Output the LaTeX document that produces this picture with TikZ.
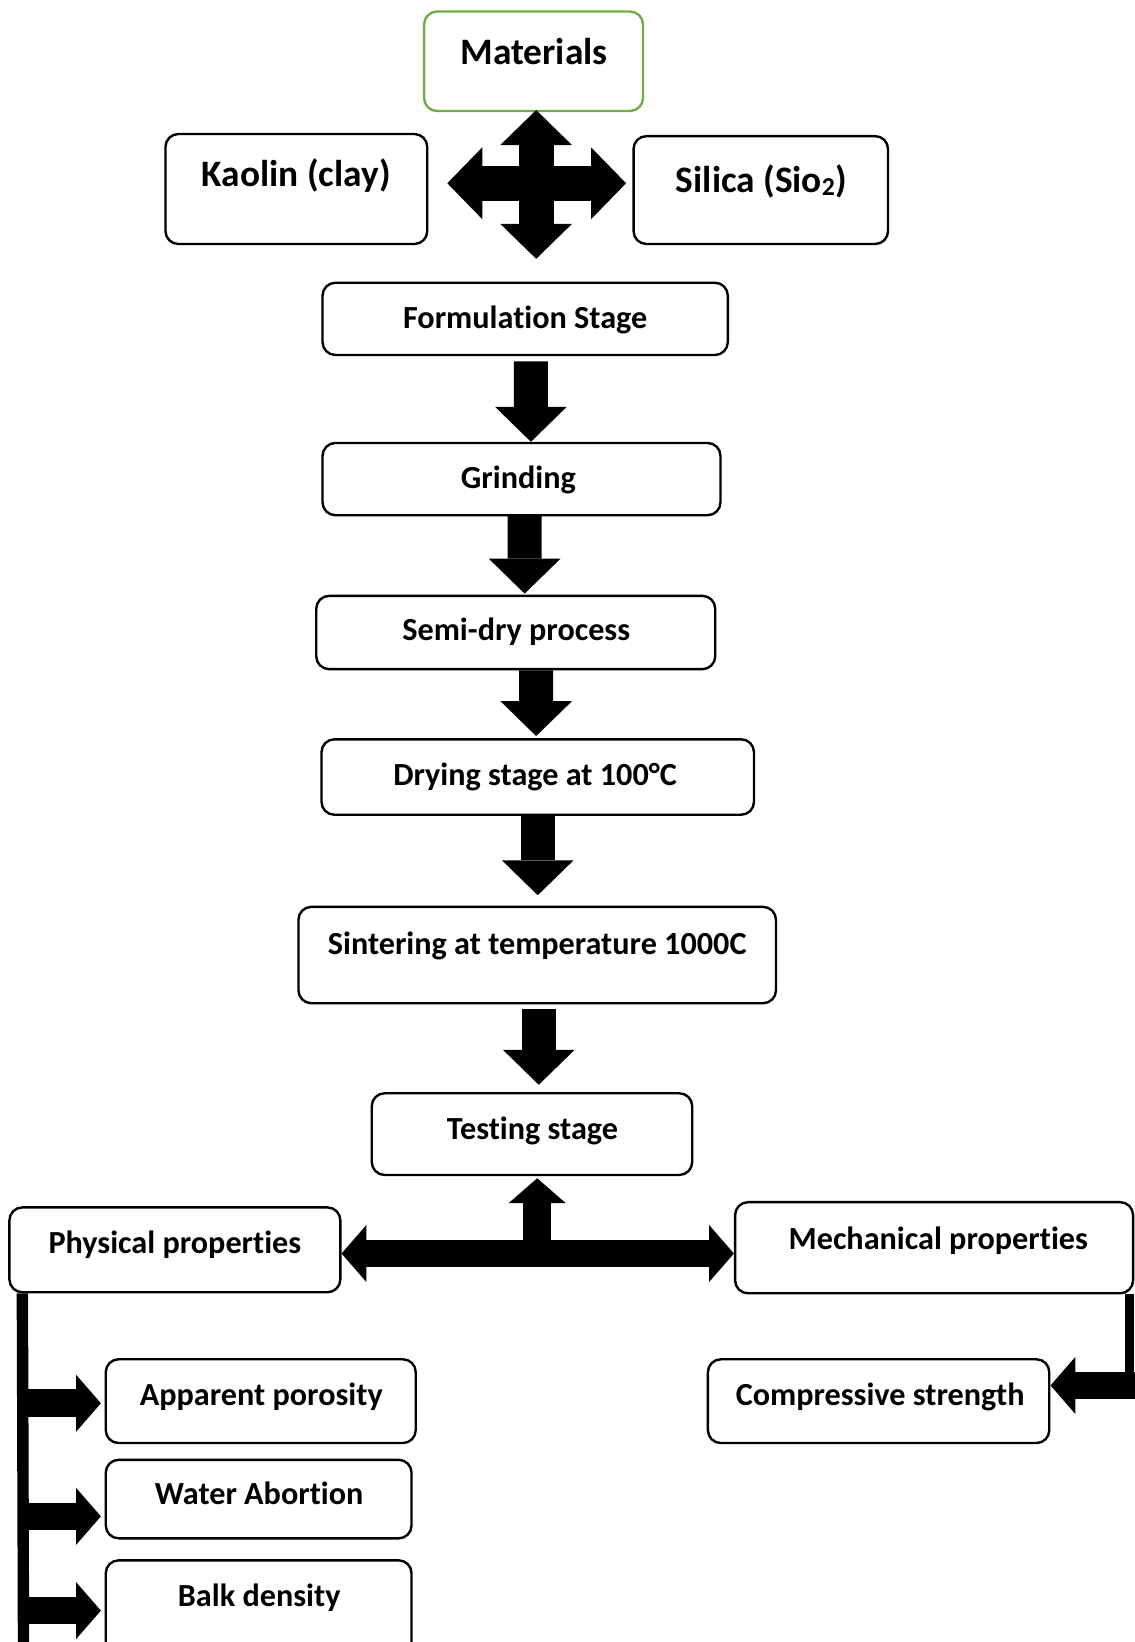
\documentclass[tikz,border=0pt]{standalone}
\usepackage{fontspec}
\setmainfont{Carlito}[Ligatures=NoCommon]
\usetikzlibrary{arrows.meta,calc,fit}

\definecolor{matgreen}{RGB}{112,173,71}

\tikzset{
  box/.style={draw, line width=1.3pt, rounded corners=7pt, inner sep=0pt},
  txt/.style={inner sep=0pt, yshift=-2.5pt, text height=0.63em, text depth=0pt, font=\bfseries\fontsize{17.5}{21}\selectfont},
  bigtxt/.style={txt, yshift=-1.5pt, font=\bfseries\fontsize{20.3}{24}\selectfont},
  Head/.tip={Triangle[length=19pt 0, width=39pt 0, line width=0pt 0]},
  Small/.tip={Triangle[length=13.5pt 0, width=31pt 0, line width=0pt 0]},
  flow/.style={line width=18.5pt, -Head},
  cross/.style={line width=19pt, Head-Head},
  link/.style={line width=15pt, -Small},
  linkboth/.style={line width=14.7pt, Small-Small},
  bar/.style={line width=#1},
}

\begin{document}
\begin{tikzpicture}[x=0.02cm, y=-0.02cm]
        \useasboundingbox (0,0) rectangle (1083,1568);

        % Raw materials
        \node[box, draw=matgreen, fit={(405,11) (614,106)}] (mat) {};
        \node[box, fit={(158,128) (408,233)}] (kao) {};
        \node[box, fit={(605,130) (848,233)}] (sil) {};
        \node[bigtxt] (mat-t) at (510,49) {Materials};
        \node[bigtxt] (kao-t) at (283,166) {Kaolin (clay)};
        \node[bigtxt] (sil-t) at (727,171) {Silica (Sio\raisebox{-0.2ex}{\fontsize{14}{14}\selectfont 2})};

        % Four way arrow
        \coordinate (hub) at (512,175);
        \draw[cross] ($(hub -| kao.east)+(18,0)$) -- ($(hub -| sil.west)+(-6,0)$);
        \draw[cross] ($(hub |- mat.south)+(0,-2)$) -- ($(hub |- mat.south)+(0,140)$);

        % Process chain
        \node[box, fit={(308,270) (695,339)}] (form) {};
        \node[box, fit={(308,423) (688,492)}] (grind) {};
        \node[box, fit={(302,569) (683,639)}] (semi) {};
        \node[box, fit={(307,706) (720,778)}] (dry) {};
        \node[box, fit={(285,866) (741,958)}] (sint) {};
        \node[box, fit={(355,1044) (661,1122)}] (test) {};

        \node[txt] (form-t) at (501.5,304) {Formulation Stage};
        \node[txt] (grind-t) at (495,457) {Grinding};
        \node[txt] (semi-t) at (493,602) {Semi-dry process};
        \node[txt] (dry-t) at (511,740) {Drying stage at 100°C};
        \node[txt] (sint-t) at (513,902) {Sintering at temperature 1000C};
        \node[txt] (test-t) at (508.5,1078) {Testing stage};

        \draw[flow] ($(form.south)+(5.5,5)$) -- ($(grind.north)+(9,0)$);
        \draw[flow] ($(grind.south)+(3,-2)$) -- ($(semi.north)+(8.5,-1)$);
        \draw[flow] ($(semi.south)+(19.5,0)$) -- ($(dry.north)+(-1.5,-2)$);
        \draw[flow] ($(dry.south)+(0,0)$) -- ($(sint.north)+(0.5,-10)$);
        \draw[flow] ($(sint.south)+(1.5,4)$) -- ($(test.north)+(6.5,-7)$);

        % Testing branches
        \node[box, fit={(9,1153) (325,1234)}] (phys) {};
        \node[box, fit={(702,1148) (1082,1235)}] (mech) {};
        \node[txt] (phys-t) at (167,1187) {Physical properties};
        \node[txt] (mech-t) at (896,1183) {Mechanical properties};

        \coordinate (split) at (513,1197);
        \draw[linkboth] (split -| phys.east) -- (split -| mech.west);
        \draw[link] (split) -- ($(split |- test.south)+(0,2)$);

        % Physical tests
        \node[box, fit={(101,1298) (397,1378)}] (app) {};
        \node[box, fit={(101,1394) (393,1469)}] (water) {};
        \node[box, fit={(101,1490) (393,1580)}] (balk) {};
        \node[txt] (app-t) at (249.5,1332) {Apparent porosity};
        \node[txt] (water-t) at (247.5,1427) {Water Abortion};
        \node[txt] (balk-t) at (247.5,1524) {Balk density};

        \coordinate (lbar) at (22.5,1580);
        \draw[bar=6.2pt] ($(phys.south west)+(13.5,0)$) -- (lbar);
        \coordinate (b1) at (17,1340);
        \coordinate (b2) at (17,1448);
        \coordinate (b3) at (17,1538);
        \draw[link, shorten >=2pt] (b1) -- (b1 -| app.west);
        \draw[link, shorten >=2pt] (b2) -- (b2 -| water.west);
        \draw[link, shorten >=2pt] (b3) -- (b3 -| balk.west);

        % Mechanical test
        \node[box, fit={(676,1298) (1002,1378)}] (comp) {};
        \node[txt] (comp-t) at (840.5,1332) {Compressive strength};

        \coordinate (rc) at (1078.5,1323);
        \draw[bar=5.1pt] (rc |- mech.south) -- (rc);
        \draw[link] ($(rc)+(10,0)$) -- (rc -| comp.east);

      \end{tikzpicture}
\end{document}
